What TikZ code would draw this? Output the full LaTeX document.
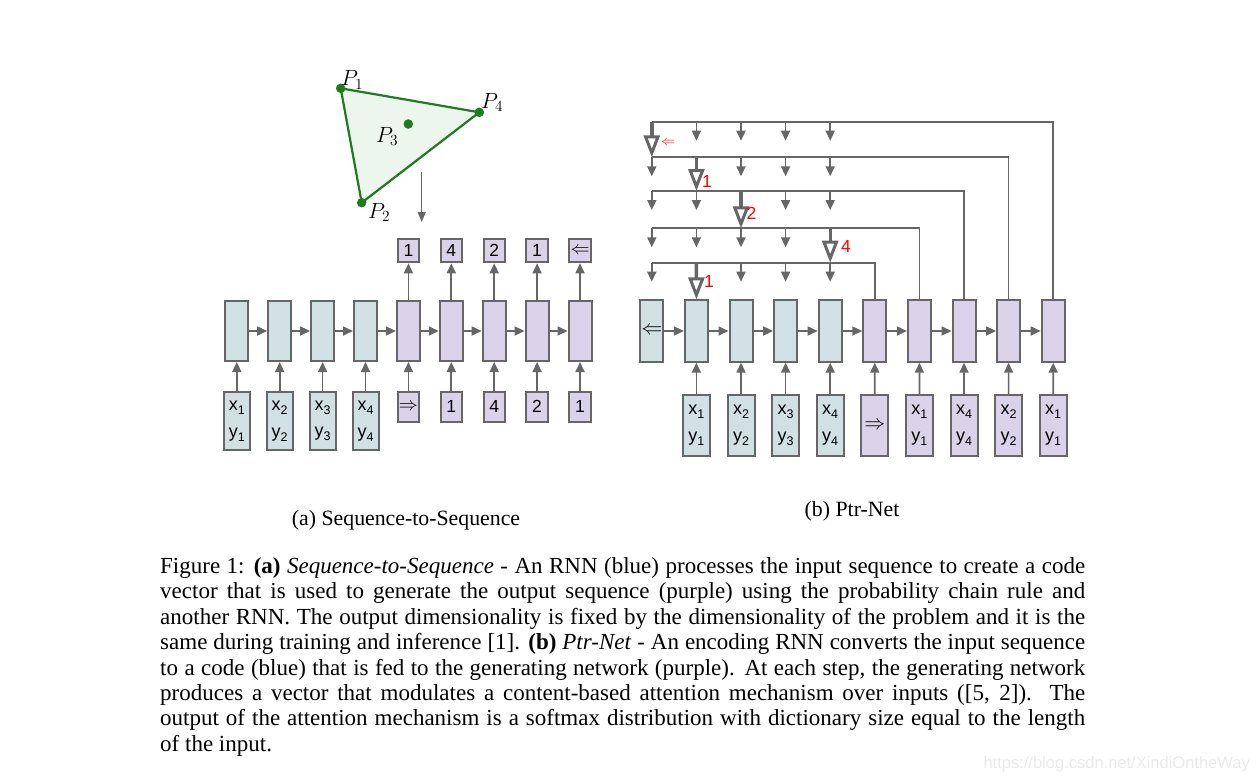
\documentclass[tikz,border=0pt]{standalone}
\usepackage{fix-cm}
\usepackage{fontspec}
\setmainfont{Liberation Serif}
\newfontfamily\arialf{Liberation Sans}
\usetikzlibrary{arrows.meta}
\definecolor{gr}{HTML}{666666}
\definecolor{encb}{HTML}{D0E0E3}
\definecolor{decp}{HTML}{D9D2E9}
\definecolor{grn}{HTML}{1E7B1E}
\definecolor{grnf}{HTML}{EDF6ED}
\definecolor{wm}{HTML}{EAEAEA}
\newcommand{\sbs}[1]{\raisebox{-4pt}{\fontsize{12.5}{12.5}\selectfont #1}}
\newcommand{\xyl}[1]{x\sbs{#1}\\y\sbs{#1}}
\begin{document}
\begin{tikzpicture}[x=1pt,y=-1pt,
  cell/.style={draw=gr, line width=2pt, inner sep=0pt},
  mid/.style={cell, minimum width=23pt, minimum height=60pt},
  outb/.style={cell, fill=decp, minimum width=21.3pt, minimum height=23pt, font=\arialf\fontsize{17.5}{17.5}\selectfont},
  sin/.style={cell, fill=encb, minimum width=26pt, minimum height=58pt, font=\arialf\fontsize{18}{26.5}\selectfont, align=center},
  sdin/.style={cell, fill=decp, minimum width=21.3pt, minimum height=29.7pt, font=\arialf\fontsize{17.5}{17.5}\selectfont},
  pmid/.style={cell, minimum width=23pt, minimum height=61.4pt},
  pin/.style={cell, minimum width=27pt, minimum height=60.7pt, font=\arialf\fontsize{18}{26.5}\selectfont, align=center},
  arr/.style={draw=gr, line width=1.7pt, -{Triangle[length=10pt,width=9pt]}},
  thinarr/.style={draw=gr, line width=1.3pt, -{Triangle[length=10pt,width=8pt]}},
  wire/.style={draw=gr, line width=1.7pt},
  bigarr/.style={draw=gr, line width=3.4pt, -{Triangle[open, fill=white, length=22pt, width=16pt, line width=3pt]}},
  redlab/.style={text=red, font=\arialf\fontsize{17.5}{17.5}\selectfont, inner sep=0pt},
  plab/.style={anchor=base west, inner sep=0pt, font=\fontsize{22}{22}\selectfont},
  dot/.style={circle, fill=grn, inner sep=0pt, minimum size=9.5pt}]
\useasboundingbox (0,0) rectangle (1257,779);

% ---------- triangle ----------
\coordinate (P1) at (340.7,88.3);
\coordinate (P4) at (479.3,112.3);
\coordinate (P2) at (361.7,202.7);
\coordinate (P3) at (408.3,124);
\draw[draw=grn, fill=grnf, line width=2.2pt, line join=round] (P1) -- (P4) -- (P2) -- cycle;
\node[dot] (d1) at (P1) {};
\node[dot] (d4) at (P4) {};
\node[dot] (d2) at (P2) {};
\node[dot] (d3) at (P3) {};
\node[plab] (l1) at (341,85.7) {$P_1$};
\node[plab] (l4) at (481,108.3) {$P_4$};
\node[plab] (l3) at (376,142.3) {$P_3$};
\node[plab] (l2) at (368,218.3) {$P_2$};
\coordinate (ta) at (421.7,171.7);
\coordinate (tb) at (421.7,222);
\draw[thinarr] (ta) -- (tb);

% ---------- Sequence-to-Sequence ----------
\foreach \i in {1,...,4} {
  \node[mid, fill=encb] (se\i) at ({236.8+42.9*(\i-1)},331) {};
  \node[sin] (si\i) at ({236.8+42.9*(\i-1)},421) {\xyl{\i}};
  \draw[arr] (si\i.north) -- (se\i.south);
}
\foreach \j/\o/\n in {1/1/{\fontsize{19}{19}\selectfont$\Rightarrow$},2/4/1,3/2/4,4/1/2,5/{\fontsize{19}{19}\selectfont$\Leftarrow$}/1} {
  \node[mid, fill=decp] (sd\j) at ({408.4+42.9*(\j-1)},331) {};
  \node[outb] (so\j) at ({408.4+42.9*(\j-1)},250.8) {\o};
  \node[sdin] (sdi\j) at ({408.4+42.9*(\j-1)},406.8) {\n};
  \draw[arr] (sdi\j.north) -- (sd\j.south);
  \draw[arr] (sd\j.north) -- (so\j.south);
}
\draw[arr] (se1.east) -- (se2.west);
\draw[arr] (se2.east) -- (se3.west);
\draw[arr] (se3.east) -- (se4.west);
\draw[arr] (se4.east) -- (sd1.west);
\draw[arr] (sd1.east) -- (sd2.west);
\draw[arr] (sd2.east) -- (sd3.west);
\draw[arr] (sd3.east) -- (sd4.west);
\draw[arr] (sd4.east) -- (sd5.west);

% ---------- Ptr-Net ----------
\node[pmid, fill=encb, font=\fontsize{21}{21}\selectfont] (pm1) at (651.8,331) {$\Leftarrow$};
\foreach \k in {2,...,5} {
  \node[pmid, fill=encb] (pm\k) at ({651.8+44.6*(\k-1)},331) {};
  \node[pin, fill=encb] (pb\k) at ({651.8+44.6*(\k-1)},425.3) {\xyl{\the\numexpr\k-1\relax}};
}
\foreach \k in {6,...,10} {
  \node[pmid, fill=decp] (pm\k) at ({651.8+44.6*(\k-1)},331) {};
}
\node[pin, fill=decp, font=\fontsize{21}{21}\selectfont] (pb6) at (874.8,425.3) {$\Rightarrow$};
\node[pin, fill=decp] (pb7) at (919.4,425.3) {\xyl{1}};
\node[pin, fill=decp] (pb8) at (964,425.3) {\xyl{4}};
\node[pin, fill=decp] (pb9) at (1008.6,425.3) {\xyl{2}};
\node[pin, fill=decp] (pb10) at (1053.2,425.3) {\xyl{1}};
\foreach \k in {2,...,10} { \draw[arr] (pb\k.north) -- (pm\k.south); }
\foreach \a/\b in {1/2,2/3,3/4,4/5,5/6,6/7,7/8,8/9,9/10} { \draw[arr] (pm\a.east) -- (pm\b.west); }

% attention rows
\coordinate (r1) at (651.8,121.7);
\coordinate (r2) at (651.8,157.3);
\coordinate (r3) at (651.8,191);
\coordinate (r4) at (651.8,228.3);
\coordinate (r5) at (651.8,262.7);
\draw[wire] (r1) -| (pm10.north);
\draw[wire] (r2) -| (pm9.north);
\draw[wire] (r3) -| (pm8.north);
\draw[wire] (r4) -| (pm7.north);
\draw[wire] (r5) -| (pm6.north);
% small arrows
\foreach \r/\yy/\skip in {1/121.7/1,2/157.3/2,3/191/3,4/228.3/5,5/262.7/2} {
  \foreach \c in {1,...,5} {
    \ifnum\c=\skip\relax\else
      \coordinate (s\r a\c) at ({651.8+44.6*(\c-1)},\yy);
      \coordinate (s\r b\c) at ({651.8+44.6*(\c-1)},\yy+19);
      \draw[arr] (s\r a\c) -- (s\r b\c);
    \fi
  }
}
% big pointer arrows
\coordinate (b1e) at (651.8,157.3);
\coordinate (b2s) at (696.4,157.3);
\coordinate (b2e) at (696.4,191);
\coordinate (b3s) at (741,191);
\coordinate (b3e) at (741,228.3);
\coordinate (b4s) at (830.2,228.3);
\coordinate (b4e) at (830.2,262.7);
\coordinate (b5s) at (696.4,262.7);
\draw[bigarr] (r1) -- (b1e);
\draw[bigarr] (b2s) -- (b2e);
\draw[bigarr] (b3s) -- (b3e);
\draw[bigarr] (b4s) -- (b4e);
\draw[bigarr] (b5s) -- (pm2.north);
\node[redlab, font=\fontsize{14}{14}\selectfont] (rl1) at (668,143) {$\Leftarrow$};
\node[redlab] (rl2) at (707,181.7) {1};
\node[redlab] (rl3) at (751.5,213) {2};
\node[redlab] (rl4) at (846,246.7) {4};
\node[redlab] (rl5) at (709,281.7) {1};

% ---------- captions ----------
\node[anchor=base, inner sep=0pt, font=\fontsize{21.8}{25.4}\selectfont] (capa) at (406,525.5) {(a) Sequence-to-Sequence};
\node[anchor=base, inner sep=0pt, font=\fontsize{21.8}{25.4}\selectfont] (capb) at (852,516) {(b) Ptr-Net};
\node[anchor=base west, inner sep=0pt] (cap) at (160,573.5) {\parbox[t]{925pt}{\fontsize{23}{25.4}\selectfont\parindent=0pt
Figure 1: \textbf{(a)} \textit{Sequence-to-Sequence} - An RNN (blue) processes the input sequence to create a code\linebreak
vector that is used to generate the output sequence (purple) using the probability chain rule and\linebreak
another RNN. The output dimensionality is fixed by the dimensionality of the problem and it is the\linebreak
same during training and inference [1]. \textbf{(b)} \textit{Ptr-Net} - An encoding RNN converts the input sequence\linebreak
to a code (blue) that is fed to the generating network (purple). At each step, the generating network\linebreak
produces a vector that modulates a content-based attention mechanism over inputs ([5, 2]).\ \ The\linebreak
output of the attention mechanism is a softmax distribution with dictionary size equal to the length\linebreak
of the input.}};
\node[anchor=base east, inner sep=0pt, text=wm, font=\arialf\fontsize{16.5}{16.5}\selectfont] (wmk) at (1250,768) {https://blog.csdn.net/XindiOntheWay};
\end{tikzpicture}
\end{document}
